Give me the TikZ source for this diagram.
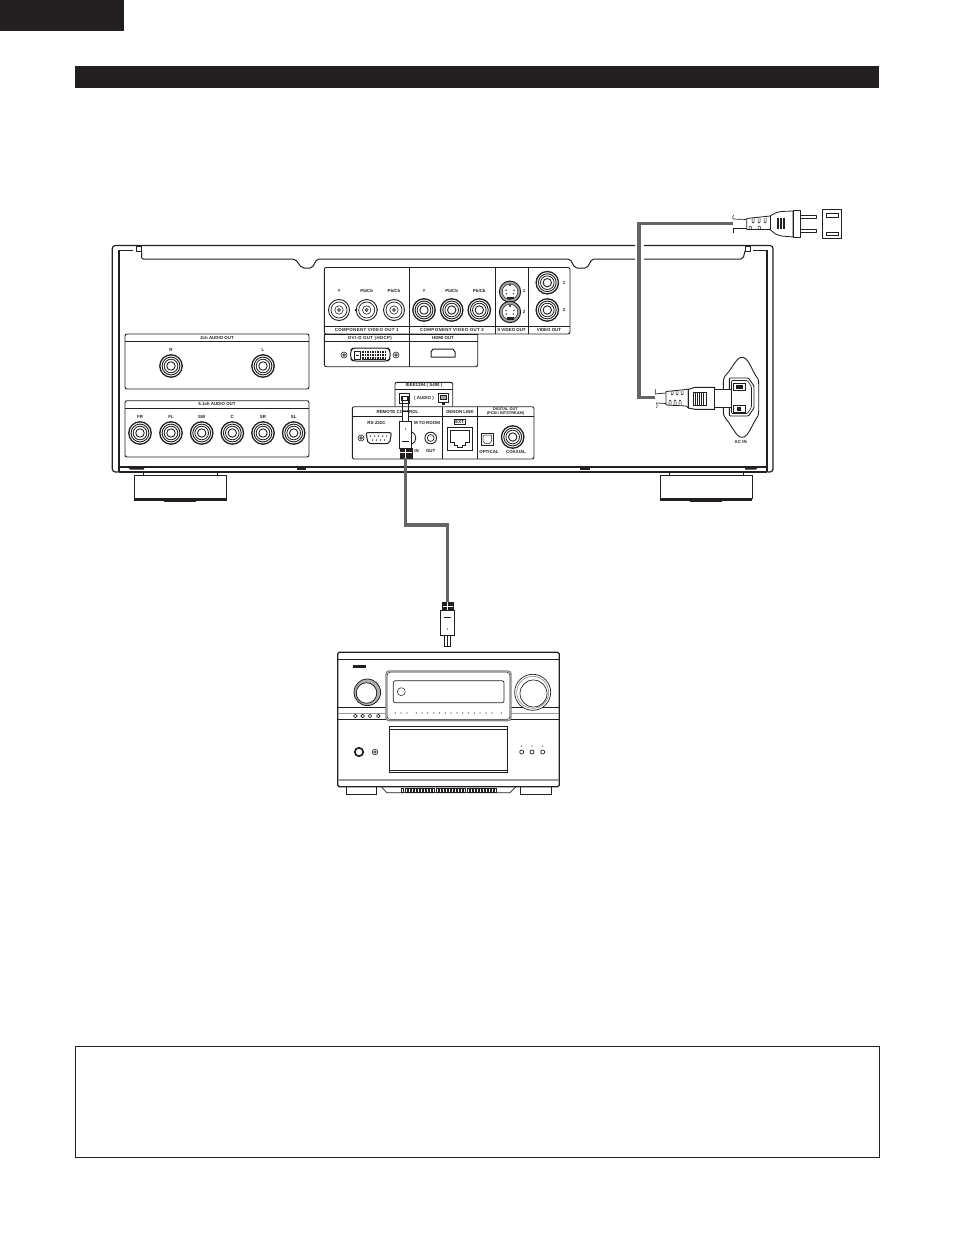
\documentclass[tikz,border=0pt]{standalone}
\usepackage{fontspec}
\setsansfont{Liberation Sans}
\usetikzlibrary{calc}
\definecolor{inkblack}{HTML}{231F20}
\definecolor{cablegrey}{HTML}{666465}
\tikzset{
  hull/.style={draw=inkblack,line width=1pt,line join=round},
  panel/.style={draw=inkblack,line width=.9pt,rounded corners=2pt},
  divider/.style={draw=inkblack,line width=.9pt},
  lbl/.style={font=\fontsize{4.4}{5}\selectfont\sffamily\bfseries,text=inkblack,inner sep=0pt,align=center},
  lblwide/.style={lbl,font=\fontsize{4.4}{5}\selectfont\sffamily\bfseries\addfontfeature{LetterSpace=8}},
  plugbody/.style={draw=inkblack,fill=white,line width=.9pt,inner sep=0pt,outer sep=0pt},
  plugboot/.style={draw=inkblack,fill=inkblack,inner sep=0pt,outer sep=0pt},
  cablewire/.style={draw=cablegrey,line width=3.2pt,line join=miter},
}
\newcommand\rcajack[2]{%
  \draw[inkblack,fill=white,line width=1.3pt] (#1,#2) circle (11.2);
  \draw[inkblack,line width=.9pt] (#1,#2) circle (8.9);
  \draw[inkblack,line width=.8pt] (#1,#2) circle (6.8);
  \draw[inkblack,line width=.9pt] (#1,#2) circle (4.2);
}
\newcommand\bncjack[2]{%
  \draw[inkblack,fill=white,line width=.9pt] (#1,#2) circle (10.5);
  \fill[inkblack] ($(#1,#2)+(-11.3,-1)$) rectangle ++(1.5,2);
  \fill[inkblack] ($(#1,#2)+(9.8,-1)$) rectangle ++(1.5,2);
  \draw[inkblack,line width=.7pt] (#1,#2) circle (8);
  \draw[inkblack,line width=.6pt] (#1,#2) circle (4.2);
  \draw[inkblack,fill=inkblack!55,line width=.4pt] (#1,#2) circle (1.7);
}
\newcommand\svideojack[2]{%
  \draw[inkblack,fill=inkblack!40,line width=1pt] (#1,#2) circle (10.6);
  \draw[inkblack,fill=white,line width=.5pt] (#1,#2) circle (7.8);
  \fill[inkblack] ($(#1,#2)+(-3.5,5.2)$) rectangle ++(7,2.4);
  \foreach \dx/\dy in {-4/-1.5,4/-1.5,-3.5/2,3.5/2}{
    \fill[inkblack!80] ($(#1,#2)+(\dx,\dy)$) circle (.9);
  }
  \fill[inkblack!80] ($(#1,#2)+(-1.2,-7.4)$) rectangle ++(2.4,2);
}
\begin{document}
\begin{tikzpicture}[x=1pt,y=-1pt]

\useasboundingbox (0,0) rectangle (954,1236);

\fill[inkblack] (0,0) rectangle (124,31);
\fill[inkblack] (75,66) rectangle (879,88);
\draw[inkblack,line width=1pt] (75.5,1046) rectangle (879.5,1157.5);

\draw[hull,line width=1.2pt,rounded corners=3pt] (118.5,472) -- (112.3,472) -- (112.3,245.5) -- (635,245.5);
\draw[hull,line width=1.2pt,rounded corners=3pt] (644,245.5) -- (773,245.5) -- (773,472) -- (767.5,472);
\draw[hull,line width=1.2pt] (119,250) -- (119,472);
\draw[hull,line width=1.2pt] (767,250) -- (767,472);
\draw[inkblack,line width=1.6pt] (118.5,250.5) -- (133,250.5);
\draw[inkblack,line width=1.6pt] (753,250.5) -- (767,250.5);
\draw[hull,line width=.8pt] (136,246) rectangle (141,251);
\draw[hull,line width=.8pt] (745,246) rectangle (750,251);
\draw[hull,rounded corners=2pt] (141.5,250) -- (141.5,259) -- (295,259) -- (302,268) -- (312,268) -- (317,259) -- (570,259) -- (575,268) -- (587,268) -- (592,259) -- (635,259);
\draw[hull,rounded corners=2pt] (644,259) -- (743,259) -- (745,251);
\draw[inkblack,line width=1.8pt] (119,466.7) -- (767,466.7);
\draw[inkblack,line width=1.3pt] (119,472) -- (767,472);
\fill[inkblack] (128,467) -- (144,467) -- (144,469.5) -- (130,469.5) -- cycle;
\fill[inkblack] (296.5,467) rectangle (306,469.5);
\fill[inkblack] (580,467) rectangle (590,469.5);
\fill[inkblack] (745,467) -- (758,467) -- (756,469.5) -- (745,469.5) -- cycle;

\foreach \fx in {134.3,660}{
  \draw[hull] (\fx+9,472) -- (\fx+9,475);
  \draw[hull] (\fx+83,472) -- (\fx+83,475);
  \draw[hull] (\fx,475) rectangle (\fx+92.4,498);
  \fill[inkblack] (\fx,497.5) rectangle (\fx+92.4,500.5);
  \fill[inkblack] (\fx+30,500) rectangle (\fx+62,502);
}

\draw[panel] (125,334) rectangle (309,389);
\draw[divider] (125,341) -- (309,341);
\node[lbl] (twochtitle) at (217,337.6) {2ch AUDIO OUT};
\node[lbl] (twochr) at (171,349.5) {R};
\node[lbl] (twochl) at (263,349.5) {L};
\rcajack{171}{366}
\rcajack{263}{366}

\draw[panel] (125,400.7) rectangle (309,457);
\draw[divider] (125,408) -- (309,408);
\node[lbl] (fivechtitle) at (217,404.4) {5.1ch AUDIO OUT};
\foreach \cx/\cn in {140/FR,171/FL,201.7/SW,232.3/C,263/SR,293.7/SL}{
  \node[lbl] (out\cn) at (\cx,416.7) {\cn};
  \rcajack{\cx}{433}
}

\draw[panel] (324.3,334) -- (324.3,267.5) -- (570,267.5) -- (570,334) -- cycle;
\draw[divider] (324.3,326.7) -- (570,326.7);
\draw[divider] (409,267.5) -- (409,366.7);
\draw[divider] (495,267.5) -- (495,334);
\draw[divider] (528,267.5) -- (528,334);
\draw[panel] (324.3,334) -- (324.3,366.7) -- (477.7,366.7) -- (477.7,334);
\draw[divider] (324.3,334) -- (477.7,334);
\draw[divider] (324.3,341.7) -- (477.7,341.7);
\node[lblwide] (compone) at (366.7,330.4) {COMPONENT VIDEO OUT 1};
\node[lblwide] (comptwo) at (452,330.4) {COMPONENT VIDEO OUT 2};
\node[lbl] (svideotitle) at (511.5,330.4) {S VIDEO OUT};
\node[lbl] (videotitle) at (549,330.4) {VIDEO OUT};
\node[lblwide] (dvititle) at (370,337.9) {DVI-D OUT (HDCP)};
\node[lbl] (hdmititle) at (443,337.9) {HDMI OUT};
\node[lbl] (yone) at (339,291) {Y};
\node[lbl] (pbone) at (366.7,291) {Pb/Cb};
\node[lbl] (prone) at (394,291) {Pb/Cb};
\node[lbl] (ytwo) at (424,291) {Y};
\node[lbl] (pbtwo) at (451.7,291) {Pb/Cb};
\node[lbl] (prtwo) at (479.3,291) {Pb/Cb};
\node[lbl] (svone) at (524,291) {1};
\node[lbl] (svtwo) at (524,312) {2};
\node[lbl] (vidone) at (564,282.7) {1};
\node[lbl] (vidtwo) at (564,310) {2};
\foreach \bx in {339,366.7,394}{
  \bncjack{\bx}{310}
}
\foreach \bx in {424,451.7,479.3}{
  \rcajack{\bx}{310}
}
\svideojack{510}{291.7}
\svideojack{510}{312}
\rcajack{547.3}{282.7}
\rcajack{547.3}{310}

\draw[hull,rounded corners=3pt] (350.7,350) -- (353,348) -- (388,348) -- (390,350) -- (390,359) -- (388,361) -- (353,361) -- (350.7,359) -- cycle;
\foreach \sx in {344,396}{
  \draw[hull,line width=.6pt] (\sx,355) circle (3);
  \draw[hull,line width=.6pt] (\sx,355) circle (1.4);
}
\draw[inkblack,line width=.8pt] (354.5,351) rectangle (360,359);
\draw[inkblack,line width=.8pt] (356,355) -- (358.5,355);
\fill[inkblack] (362,350.5) rectangle (386,359.5);
\foreach \gx in {364,366.5,...,385}
  \draw[white,line width=.4pt] (\gx,351) -- (\gx,359);
\draw[white,line width=.4pt] (362,353.5) -- (386,353.5);
\draw[white,line width=.4pt] (362,356.5) -- (386,356.5);
\draw[hull] (433,349) -- (453,349) -- (455,352) -- (455,357) -- (431,357) -- (431,352) -- cycle;

\draw[panel] (395,406.7) -- (395,382.3) -- (452.7,382.3) -- (452.7,406.7);
\draw[divider] (395,389) -- (452.7,389);
\node[lbl] (ieeetitle) at (424,385.8) {IEEE1394 ( S400 )};
\node[lbl] (audiotitle) at (424,398) {( AUDIO )};
\draw[inkblack,line width=1pt] (399,393.5) rectangle (409,403);
\draw[inkblack,line width=.8pt] (401,396) rectangle (407,400);
\draw[inkblack,line width=1pt] (438.3,393.5) rectangle (448.3,402);
\draw[inkblack,fill=inkblack!40,line width=.6pt] (440.3,395.5) rectangle (446.3,399.5);
\fill[inkblack] (441.5,402) rectangle (445,405);

\draw[panel] (352.3,459) rectangle (534,406.7);
\draw[divider] (352.3,416.7) -- (534,416.7);
\draw[divider] (442.7,406.7) -- (442.7,459);
\draw[divider] (477.3,406.7) -- (477.3,459);
\node[lbl] (remotetitle) at (397.5,411.7) {REMOTE CONTROL};
\node[lbl] (denontitle) at (460,411.7) {DENON LINK};
\node[lbl,font=\fontsize{3.9}{4.1}\selectfont\sffamily\bfseries] (digitaltitle) at (505.5,411.5) {DIGITAL OUT\\(PCM / BITSTREAM)};
\node[lbl] (rsport) at (376.5,423.3) {RS-232C};
\node[lbl] (roomport) at (427,423.3) {M TO ROOM};
\node[lbl] (roomin) at (416.5,451) {IN};
\node[lbl] (roomout) at (430.7,451) {OUT};
\node[lbl,draw=inkblack,line width=.5pt,inner sep=.8pt] (extport) at (460,421.6) {EXT.};
\node[lbl] (optport) at (489,452) {OPTICAL};
\node[lbl] (coaxport) at (516,452) {COAXIAL};

\draw[hull,rounded corners=2pt] (366,432.5) -- (391.5,432.5) -- (389.5,443.5) -- (368,443.5) -- cycle;
\foreach \px in {370.5,374.5,...,387}
  \fill[inkblack] (\px,436) circle (.75);
\foreach \px in {372.5,376.5,...,385}
  \fill[inkblack] (\px,440) circle (.75);
\draw[hull,line width=.6pt] (361,438) circle (3);
\draw[hull,line width=.6pt] (361,438) circle (1.4);
\draw[inkblack,line width=.9pt] (412,432) .. controls (417,434) and (417,442) .. (412,444);
\draw[inkblack,line width=.9pt] (430.7,438) circle (5.8);
\draw[inkblack,line width=.7pt] (430.7,438) circle (3.4);
\draw[inkblack,line width=1pt] (447.3,427) rectangle (472.3,450.7);
\draw[inkblack,line width=.8pt] (450,430) -- (469.5,430) -- (469.5,442) -- (465,442) -- (465,445) -- (462.5,445) -- (462.5,447.5) -- (457,447.5) -- (457,445) -- (454.5,445) -- (454.5,442) -- (450,442) -- cycle;
\draw[inkblack,line width=.9pt] (481,433) rectangle (493.5,445.5);
\draw[inkblack,line width=.5pt] (483,435) -- (491.5,435) -- (491.5,441) -- (489.5,443.5) -- (485,443.5) -- (483,441) -- cycle;
\rcajack{512.7}{437}

\draw[hull,line width=.9pt] (742,357.3) .. controls (736,357.3) and (733,368) .. (725,376) .. controls (723.5,378) and (723.3,380) .. (723.3,384) -- (723.3,411) .. controls (723.3,415) and (724,416) .. (726,419) .. controls (733,427) and (736,437.3) .. (742,437.3) .. controls (748,437.3) and (751,427) .. (756,419) .. controls (758.3,416) and (758.7,414) .. (758.7,411) -- (758.7,384) .. controls (758.7,380) and (758,378) .. (756,376) .. controls (751,368) and (748,357.3) .. (742,357.3) -- cycle;
\draw[hull,line width=.9pt,rounded corners=1pt] (729.3,378) -- (748.5,378) -- (754,386) -- (754,408) -- (748.5,416) -- (729.3,416) -- cycle;
\draw[hull,line width=.6pt,rounded corners=1pt] (731.5,380.5) -- (747.5,380.5) -- (751.5,387) -- (751.5,407) -- (747.5,413.5) -- (731.5,413.5) -- cycle;
\draw[inkblack,line width=.9pt] (733.3,383) rectangle (745,390);
\fill[inkblack] (735.5,384.5) rectangle (743,388.5);
\draw[inkblack,line width=.9pt] (733.3,405) rectangle (745,412);
\fill[inkblack] (736.5,406.5) rectangle (741,410.5);
\node[lbl] (acin) at (740.7,442) {AC IN};

\coordinate (wireLower) at (655,397.3);
\coordinate (wireUpper) at (733,223.3);
\draw[cablewire] (wireUpper) -| (639,397.3) -- (wireLower);

\draw[inkblack,line width=.7pt] (655,394) -- (666,393);
\draw[inkblack,line width=.7pt] (656.5,403) -- (666,403.5);
\draw[inkblack,line width=.5pt] (655,389) .. controls (656,391) and (656,393) .. (655,394);
\draw[inkblack,line width=.5pt] (656.5,403) .. controls (657.5,405) and (657.5,406) .. (656.5,408);
\draw[hull,fill=white,line width=.8pt] (666,391.5) -- (686,389.5) -- (688.3,389) -- (688.3,408) -- (686,406) -- (666,405) -- cycle;
\foreach \tx in {671,676,681}{
  \draw[inkblack,line width=.5pt,rounded corners=1pt] (\tx,391) -- (\tx,395) -- (\tx+2,395) -- (\tx+2,390.6);
  \draw[inkblack,line width=.5pt,rounded corners=1pt] (\tx-2,405) -- (\tx-2,400) -- (\tx,400) -- (\tx,405);
}
\draw[hull,fill=white] (688.3,389.5) -- (695,387.3) -- (714.7,387.3) -- (714.7,409.3) -- (695,409.3) -- (688.3,408) -- cycle;
\draw[inkblack,line width=.7pt] (693,392.7) rectangle (706,405);
\foreach \vx in {695,697,...,704}
  \draw[inkblack,line width=1pt] (\vx,393) -- (\vx,405);
\draw[hull,fill=white] (714.7,389.3) rectangle (731.7,407.3);

\draw[inkblack,line width=.7pt] (733,219) -- (746.7,219.5);
\draw[inkblack,line width=.7pt] (733,228) -- (746.7,228);
\draw[inkblack,line width=.5pt] (733.5,215) .. controls (732.5,217) and (732.5,218) .. (733,219);
\draw[inkblack,line width=.5pt] (733,228) .. controls (733.5,230) and (733.5,231) .. (733,233);
\draw[hull,fill=white,line width=.8pt] (746.7,218.5) -- (770,216) -- (775.5,213) -- (781,211.5) -- (793,211) -- (793,237) -- (781,236) -- (775.5,234) -- (770,229.5) -- (746.7,229.5) -- cycle;
\foreach \tx in {752,758,764}{
  \draw[inkblack,line width=.5pt,rounded corners=1pt] (\tx,218) -- (\tx,223) -- (\tx+2,223) -- (\tx+2,217.5);
}
\draw[inkblack,line width=.5pt,rounded corners=1pt] (749,229.5) -- (749,226) -- (751.5,226) -- (751.5,229.5);
\draw[inkblack,line width=.5pt,rounded corners=1pt] (758,229.5) -- (758,226) -- (760.5,226) -- (760.5,229.5);
\draw[inkblack,line width=.8pt] (770,216) -- (770,229.5);
\foreach \vx in {777.6,780.8,784}
  \draw[inkblack,line width=2pt] (\vx,218) -- (\vx,229);
\draw[hull,fill=white] (793,210.7) rectangle (800.7,237.3);
\draw[hull,line width=.8pt] (800.7,215.5) rectangle (816.7,218.5);
\draw[hull,line width=.8pt] (800.7,229.5) rectangle (816.7,232.5);
\draw[inkblack,line width=1pt] (822.3,209.3) rectangle (841.7,238.3);
\draw[inkblack,line width=.9pt] (826.7,213.3) rectangle (838.3,217);
\draw[inkblack,line width=.9pt] (826.7,232) rectangle (838.3,235.3);

\draw[inkblack,line width=.9pt] (402.7,396) rectangle (408.3,412);
\node[plugbody,minimum width=12.4pt,minimum height=26.6pt] (playerplug) at (405.5,435) {};
\node[plugbody,minimum width=5.6pt,minimum height=10pt] (playerneck) at (405.5,416.7) {};
\node[plugboot,minimum width=12pt,minimum height=10pt] (playerboot) at (405.7,453.3) {};
\draw[white,line width=.5pt] (405.7,448.5) -- (405.7,458);
\draw[white,line width=.5pt] (400,452) -- (411.5,452);
\fill[inkblack] (405.5,429) circle (.7);
\draw[inkblack,line width=.5pt] (402,441.5) -- (409,441.5);

\node[plugboot,minimum width=10.7pt,minimum height=9pt] (ampboot) at (447.4,606.2) {};
\draw[white,line width=.5pt] (447.4,602) -- (447.4,610.5);
\draw[white,line width=.5pt] (442.5,606) -- (452.5,606);
\node[plugbody,minimum width=13.6pt,minimum height=25pt] (ampplug) at (447.5,623.2) {};
\node[plugbody,minimum width=6.7pt,minimum height=11pt] (ampneck) at (447.4,641.2) {};
\draw[inkblack,line width=.5pt] (444,617) -- (451,617);
\fill[inkblack] (447.5,629) circle (.7);
\draw[inkblack,line width=.6pt] (447.4,636) -- (447.4,646.7);
\draw[cablewire] (playerboot.south) -- (playerboot.south |- 0,525) -| (ampboot.north);

\draw[hull,line width=1.2pt,rounded corners=1.5pt] (337.7,652.3) rectangle (559.3,786.7);
\draw[inkblack,line width=.7pt] (337.7,659) -- (559.3,659);
\fill[inkblack] (353.3,664.7) rectangle (366,667.7);
\draw[inkblack,line width=.7pt] (337.7,707.3) -- (386,707.3);
\draw[inkblack,line width=.7pt] (511,707.3) -- (559.3,707.3);
\draw[inkblack!45,line width=.8pt] (337.7,713.3) -- (386,713.3);
\draw[inkblack!45,line width=.8pt] (511,713.3) -- (559.3,713.3);
\draw[inkblack,line width=.7pt] (337.7,719.5) -- (386,719.5);
\draw[inkblack,line width=.7pt] (511,719.5) -- (559.3,719.5);
\draw[inkblack,line width=.8pt,fill=inkblack!35] (367.3,692.3) circle (13.3);
\draw[inkblack,line width=.8pt,fill=white] (366.5,693) circle (10.3);
\draw[inkblack,line width=.7pt,fill=white] (532.7,692.3) circle (18);
\draw[inkblack!60,line width=.5pt] (532.7,692.3) circle (16);
\draw[inkblack,line width=.7pt] (533.5,693.5) circle (13.5);
\draw[inkblack!55,line width=1.3pt,rounded corners=3pt] (386,671) rectangle (511,720.7);
\draw[inkblack,line width=.5pt,rounded corners=3pt] (387.2,672.2) rectangle (509.8,719.5);
\draw[inkblack,line width=.7pt,rounded corners=2pt] (393.3,680.7) rectangle (504,702.7);
\draw[inkblack,line width=.5pt] (401.3,691.7) circle (4);
\foreach \dotx in {226,243,261,289,306,323,341,358,376,393,411,428,445,463,480,498,516,544}
  \fill[inkblack] (320+\dotx/3,713) circle (.6);
\foreach \butx in {106,128,150,175}
  \draw[inkblack,line width=.6pt] (320+\butx/3,716) circle (1.8);
\draw[inkblack,line width=.9pt] (389.3,726.7) rectangle (507.3,772.7);
\draw[inkblack,line width=.5pt] (389.3,729.3) -- (507.3,729.3);
\draw[inkblack,line width=.8pt] (389.3,770) -- (507.3,770);
\draw[inkblack,line width=1.7pt] (359,752) circle (4.2);
\draw[inkblack,line width=.6pt] (375,752) circle (2.8);
\draw[inkblack,line width=.5pt] (375,752) circle (1.2);
\foreach \knx in {521.7,532,542.7}{
  \draw[inkblack,line width=.7pt] (\knx,752) circle (2);
  \fill[inkblack] (\knx,746) circle (.6);
}
\draw[inkblack!45,line width=1.2pt] (338.3,780) -- (558.7,780);
\draw[inkblack,line width=.9pt] (346,786.7) rectangle (376,794);
\draw[inkblack,line width=.9pt] (520.7,786.7) rectangle (551.7,794);
\fill[inkblack] (355,794) rectangle (367,795);
\fill[inkblack] (530,794) rectangle (542,795);
\draw[inkblack,line width=.7pt] (381.7,787) -- (386.7,792.7) -- (510,792.7) -- (515.7,787);
\foreach \tkx in {401.7,404.8,...,495.5}
  \draw[inkblack,line width=.6pt] (\tkx,788.5) rectangle (\tkx+2,792.7);

\end{tikzpicture}
\end{document}
